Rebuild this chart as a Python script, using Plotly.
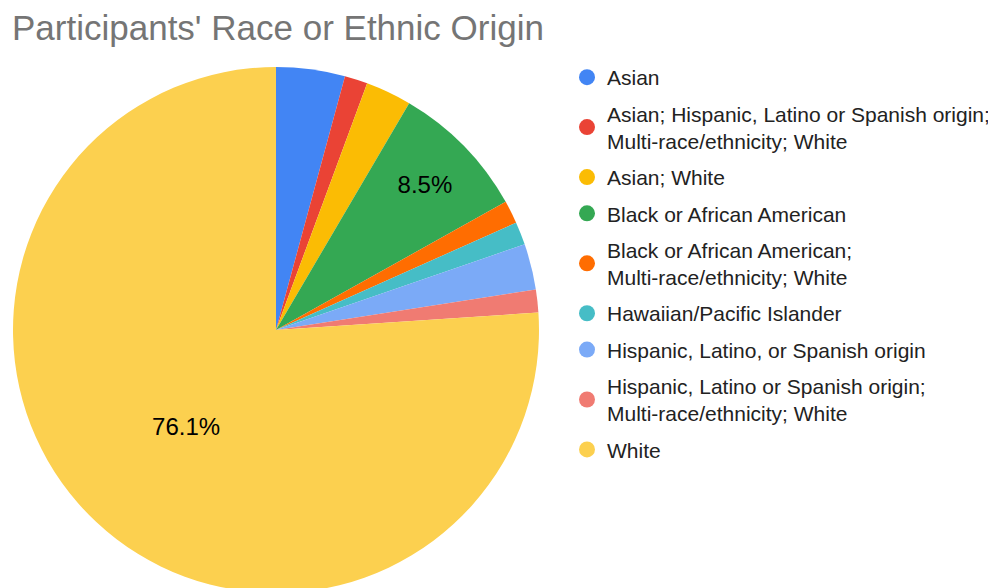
import plotly.graph_objects as go

categories = [
    "Asian",
    "Asian; Hispanic, Latino or Spanish origin;<br>Multi-race/ethnicity; White",
    "Asian; White",
    "Black or African American",
    "Black or African American;<br>Multi-race/ethnicity; White",
    "Hawaiian/Pacific Islander",
    "Hispanic, Latino, or Spanish origin",
    "Hispanic, Latino or Spanish origin;<br>Multi-race/ethnicity; White",
    "White",
]
counts = [3, 1, 2, 6, 1, 1, 2, 1, 54]
colors = ["#4285F4", "#EA4335", "#FBBC04", "#34A853", "#FF6D01",
          "#46BDC6", "#7BAAF7", "#F07B72", "#FCD04F"]

total = sum(counts)
labels_txt = [f"{c / total * 100:.1f}%" if c / total >= 0.05 else "" for c in counts]

W, H = 996, 588
OFF = 8  # page body margin offset
FONT = "Liberation Sans, Arial, sans-serif"

# pie geometry in page pixels
CX, CY, R = 276 - OFF, 330 - OFF, 263

fig = go.Figure()
fig.add_trace(go.Pie(
    labels=categories, values=counts, sort=False, direction="clockwise", rotation=0,
    marker=dict(colors=colors, line=dict(width=0)),
    text=labels_txt, textinfo="text", textposition="inside",
    insidetextorientation="horizontal",
    textfont=dict(size=24, color="black", family=FONT),
    showlegend=False, hoverinfo="label+percent",
    domain=dict(x=[(CX - R) / W, (CX + R) / W],
                y=[1 - (CY + R) / H, 1 - (CY - R) / H]),
))

for i, (cat, col) in enumerate(zip(categories, colors)):
    fig.add_trace(go.Scatter(
        x=[None], y=[None], mode="markers", name=cat, legendgroup=f"g{i}",
        marker=dict(color=col, size=20, symbol="circle"),
        showlegend=True,
    ))

fig.update_layout(
    width=W, height=H,
    margin=dict(l=0, r=0, t=0, b=0),
    paper_bgcolor="white", plot_bgcolor="white",
    title=dict(text="Participants' Race or Ethnic Origin", x=(12 - OFF) / W, xanchor="left",
               y=1 - 7 / H, yanchor="top",
               font=dict(size=35, color="#757575", family=FONT)),
    xaxis=dict(visible=False), yaxis=dict(visible=False),
    legend=dict(x=(567 - OFF) / W, xanchor="left", y=1 - 49 / H, yanchor="top",
                font=dict(size=21, color="#222222", family=FONT),
                tracegroupgap=6, itemsizing="trace", bgcolor="rgba(0,0,0,0)"),
)

fig.write_html("out.html")
